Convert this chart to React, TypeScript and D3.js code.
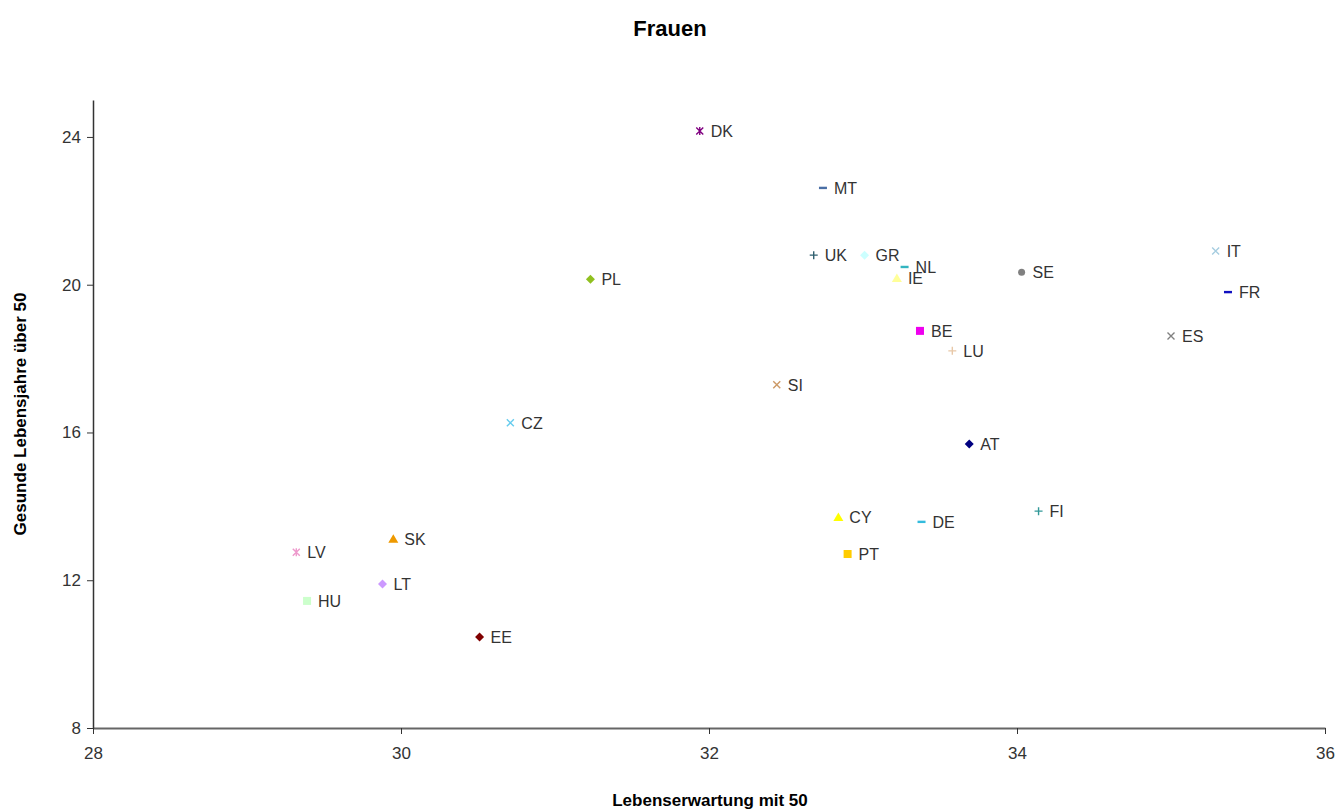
import React, { useRef, useEffect } from 'react';
import * as d3 from 'd3';

const countries = ['DK', 'MT', 'UK', 'GR', 'NL', 'IE', 'SE', 'IT', 'FR', 'ES', 'BE', 'LU', 'PL', 'SI', 'CZ', 'AT', 'FI', 'CY', 'DE', 'PT', 'LV', 'SK', 'LT', 'HU', 'EE'];
const lifeExpectancy = [31.94, 32.74, 32.68, 33.01, 33.27, 33.22, 34.03, 35.29, 35.37, 35.0, 33.37, 33.58, 31.23, 32.44, 30.71, 33.69, 34.14, 32.84, 33.38, 32.9, 29.32, 29.95, 29.88, 29.39, 30.51];
const healthyYears = [24.16, 22.62, 20.8, 20.8, 20.48, 20.18, 20.34, 20.91, 19.8, 18.61, 18.75, 18.21, 20.15, 17.29, 16.26, 15.69, 13.87, 13.71, 13.58, 12.71, 12.76, 13.12, 11.9, 11.44, 10.46];
const markerShapes = ['star', 'dash', 'plus', 'diamond', 'dash', 'triangle', 'circle', 'x', 'dash', 'x', 'square', 'plus', 'diamond', 'x', 'x', 'diamond', 'plus', 'triangle', 'dash', 'square', 'star', 'triangle', 'diamond', 'square', 'diamond'];
const markerColors = ['#800080', '#4a6fa5', '#2f5f6f', '#ccffff', '#33b5c0', '#ffff99', '#808080', '#a6cde0', '#1010c0', '#808080', '#ee00ee', '#e8c8a8', '#90c020', '#cc9966', '#66ccee', '#000080', '#339999', '#ffff00', '#33bbdd', '#ffcc00', '#ee99cc', '#ee9900', '#cc99ff', '#ccffcc', '#800000'];
const xTicks = [28, 30, 32, 34, 36];
const yTicks = [8, 12, 16, 20, 24];

const W = 1337;
const H = 810;

const App: React.FC = () => {
    const svgRef = useRef<SVGSVGElement>(null);

    useEffect(() => {
        if (!svgRef.current) return;
        document.body.style.margin = '0';
        const svg = d3.select(svgRef.current);
        svg.selectAll('*').remove();

        const font = 'Liberation Sans, Arial, sans-serif';
        const x = d3.scaleLinear().domain([28, 36]).range([93, 1325]);
        const y = d3.scaleLinear().domain([8, 25]).range([728, 100]);

        // Title
        svg.append('text')
            .attr('x', 670).attr('y', 36)
            .attr('text-anchor', 'middle')
            .attr('font-family', font).attr('font-size', 22).attr('font-weight', 'bold')
            .attr('fill', '#000')
            .text('Frauen');

        // Axes
        const xAxis = d3.axisBottom(x).tickValues(xTicks).tickSize(6).tickSizeOuter(0).tickFormat(d3.format('d'));
        const gx = svg.append('g').attr('transform', `translate(0, ${y(8)})`).call(xAxis);
        gx.select('.domain').attr('stroke', '#666').attr('stroke-width', 2);
        gx.selectAll('.tick line').attr('stroke', '#333');
        gx.selectAll('.tick text')
            .attr('font-family', font).attr('font-size', 17).attr('fill', '#333').attr('y', 14).attr('dy', '1em');

        const yAxis = d3.axisLeft(y).tickValues(yTicks).tickSize(6).tickSizeOuter(0).tickFormat(d3.format('d'));
        const gy = svg.append('g').attr('transform', `translate(${x(28)}, 0)`).call(yAxis);
        gy.select('.domain').attr('stroke', '#333').attr('stroke-width', 1.5);
        gy.selectAll('.tick line').attr('stroke', '#333');
        gy.selectAll('.tick text')
            .attr('font-family', font).attr('font-size', 17).attr('fill', '#333').attr('x', -12);

        // Axis titles
        svg.append('text')
            .attr('x', 710).attr('y', 806)
            .attr('text-anchor', 'middle')
            .attr('font-family', font).attr('font-size', 17).attr('font-weight', 'bold')
            .text('Lebenserwartung mit 50');

        svg.append('text')
            .attr('transform', `translate(26, ${y(16.5)}) rotate(-90)`)
            .attr('text-anchor', 'middle')
            .attr('font-family', font).attr('font-size', 17).attr('font-weight', 'bold')
            .text('Gesunde Lebensjahre über 50');

        // Points
        const pts = svg.append('g');
        countries.forEach((c, i) => {
            const cx = x(lifeExpectancy[i]);
            const cy = y(healthyYears[i]);
            const col = markerColors[i];
            const g = pts.append('g').attr('transform', `translate(${cx}, ${cy})`);
            const shape = markerShapes[i];
            if (shape === 'diamond') {
                g.append('path').attr('d', 'M0,-4.5L4.5,0L0,4.5L-4.5,0Z').attr('fill', col);
            } else if (shape === 'square') {
                g.append('rect').attr('x', -4).attr('y', -4).attr('width', 8).attr('height', 8).attr('fill', col);
            } else if (shape === 'triangle') {
                g.append('path').attr('d', 'M0,-4.5L5,4L-5,4Z').attr('fill', col);
            } else if (shape === 'circle') {
                g.append('circle').attr('r', 3.5).attr('fill', col);
            } else if (shape === 'dash') {
                g.append('rect').attr('x', -4).attr('y', -1.2).attr('width', 8).attr('height', 2.4).attr('fill', col);
            } else if (shape === 'plus') {
                g.append('path').attr('d', 'M-4,0H4M0,-4V4').attr('stroke', col).attr('stroke-width', 1.4);
            } else if (shape === 'x') {
                g.append('path').attr('d', 'M-3.5,-3.5L3.5,3.5M-3.5,3.5L3.5,-3.5').attr('stroke', col).attr('stroke-width', 1.4);
            } else if (shape === 'star') {
                g.append('path').attr('d', 'M-3.5,-3.5L3.5,3.5M-3.5,3.5L3.5,-3.5M0,-4V4').attr('stroke', col).attr('stroke-width', 1.4);
            }
            pts.append('text')
                .attr('x', cx + 11).attr('y', cy)
                .attr('dy', '0.36em')
                .attr('font-family', font).attr('font-size', 16).attr('fill', '#333')
                .text(c);
        });
    }, []);

    return <svg ref={svgRef} width={W} height={H} style={{ display: 'block', background: '#fff' }} />;
};

export default App;
